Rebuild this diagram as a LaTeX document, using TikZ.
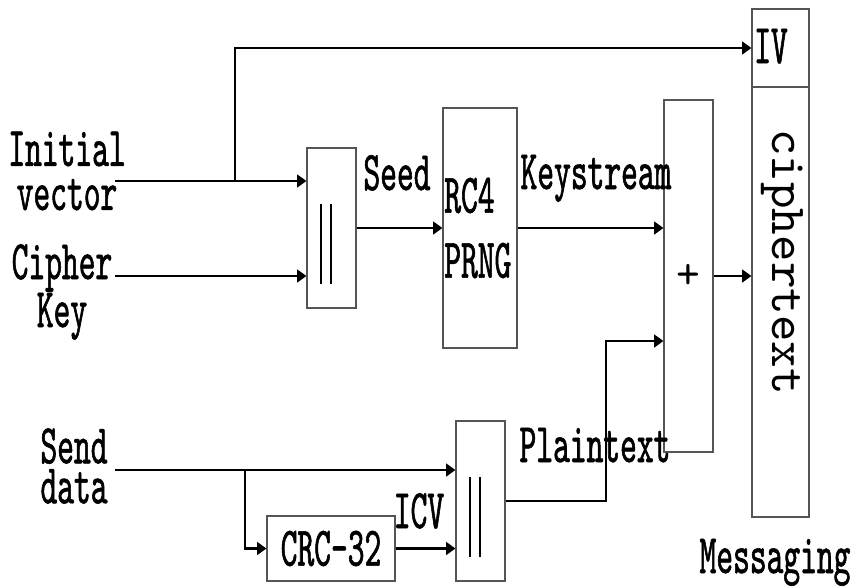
\documentclass[tikz,border=0pt]{standalone}
\usepackage{fontspec}
\usetikzlibrary{arrows.meta, positioning, calc}
\usepackage{xcolor}
\definecolor{wepgray}{HTML}{555555}
\newfontfamily\lblfont[FakeStretch=0.57,FakeBold=1.0]{lmmono10-regular.otf}
\newfontfamily\ctfont{lmmono10-regular.otf}

\begin{document}
\begin{tikzpicture}[x=0.75pt, y=-0.75pt,
  blk/.style={rectangle, draw=wepgray, line width=0.8pt, inner sep=0pt,
              font={\lblfont\fontsize{42}{33}\selectfont}},
  mux/.style={blk, minimum width=36.75pt, minimum height=120pt},
  lbl/.style={inner sep=0pt, font={\lblfont\fontsize{42}{33}\selectfont}},
  flow/.style={-{Triangle[length=7pt, width=9.5pt]}, line width=2pt, black},
  bar/.style={line width=0.8pt, black}
]
\useasboundingbox (0,0) rectangle (857,587);

% Inputs
\node[lbl, align=center] (ivlbl) at (67,171) {Initial\\vector};
\node[lbl, align=center] (keylbl) at (62,292) {Cipher\\Key};
\node[lbl, align=center, font={\lblfont\fontsize{42}{30}\selectfont}] (sendlbl) at (74,466) {Send\\data};

% Processing blocks
\node[mux] (mux1) at (331.5,228) {};
\node[blk, minimum width=55.5pt, minimum height=180pt, text width=53.5pt, align=left,
      font={\lblfont\fontsize{42}{48.75}\selectfont}] (rc4) at (480,228) {RC4\\PRNG};
\node[blk, minimum width=36.75pt, minimum height=264pt,
      font={\ctfont\fontsize{34}{34}\selectfont}] (xor) at (688.5,276) {+};
\node[blk, minimum width=96pt, minimum height=48.75pt] (crc) at (331,548.5) {CRC-32};
\node[mux] (mux2) at (480.5,501) {};

% Message frame
\node[blk, minimum width=42.75pt, minimum height=58.5pt] (ivbox) at (780.5,48) {};
\node[blk, minimum width=42.75pt, minimum height=322.5pt] (ctbox) at (780.5,302) {};
\node[lbl, anchor=base] (ivtxt) at (771,63) {IV};
\node[inner sep=0pt, rotate=-90, font={\ctfont\fontsize{37.9}{38}\selectfont}] (cttxt) at (782,262) {ciphertext};
\node[lbl, anchor=base] (msglbl) at (775,573) {Messaging};

% Concatenation bars
\foreach \m in {mux1, mux2}
  \foreach \dx in {-10.5, -0.5}
    \draw[bar] ([shift={(\dx,-24)}]\m.center) -- ([shift={(\dx,56)}]\m.center);

% Connector labels
\node[lbl, anchor=base] (seedlbl) at (397,190) {Seed};
\node[lbl, anchor=base] (kslbl) at (596,189) {Keystream};
\node[lbl, anchor=base] (ptlbl) at (595,462) {Plaintext};
\node[lbl, anchor=base] (icvlbl) at (419,528) {ICV};

% Connectors
\coordinate (ivin) at (115,181);
\coordinate (keyin) at (115,276);
\coordinate (sendin) at (115,470);
\coordinate (ivsplit) at (235,181);
\coordinate (sendsplit) at (245,470);
\coordinate (plainup) at (606,341);

\draw[flow] (ivin) -- (ivin -| mux1.west);
\draw[flow] (ivsplit) |- (ivbox.west);
\draw[flow] (keyin) -- (keyin -| mux1.west);
\draw[flow] (mux1) -- (rc4);
\draw[flow] (rc4) -- (rc4 -| xor.west);
\draw[flow] (xor.east) -- (xor.east -| ctbox.west);
\draw[flow] (sendin) -- (sendin -| mux2.west);
\draw[flow] (sendsplit) |- (crc);
\draw[flow] (crc) -- (crc -| mux2.west);
\draw[flow] (mux2.east) -| (plainup) -- (plainup -| xor.west);

\end{tikzpicture}
\end{document}
